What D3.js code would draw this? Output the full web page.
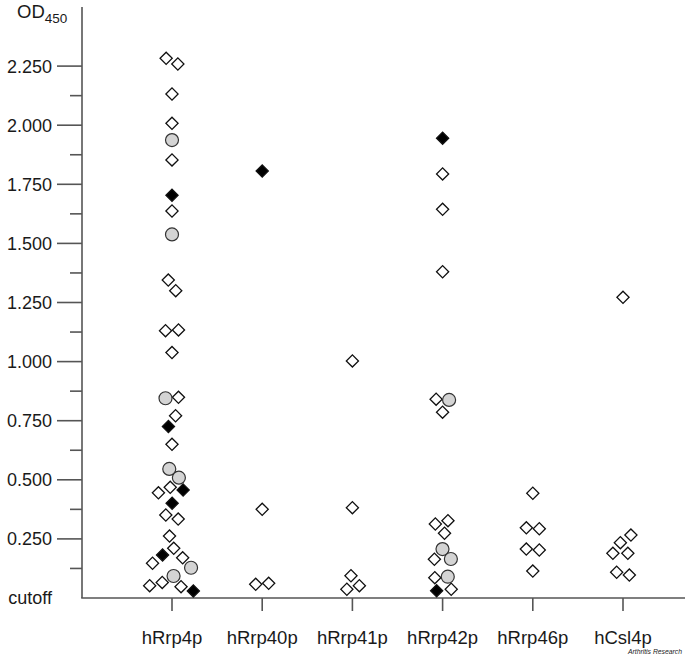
<!DOCTYPE html>
<html>
<head>
<meta charset="utf-8">
<script src="https://cdn.jsdelivr.net/npm/d3@7"></script>
<style>
  html, body { margin: 0; padding: 0; background: #fff; }
  svg { display: block; }
  text { font-family: "Liberation Sans", Arial, Helvetica, sans-serif; fill: #1a1a1a; }
</style>
</head>
<body>
<svg id="chart" width="685" height="655"></svg>
<script>
// ---- data ----
const categories = ["hRrp4p", "hRrp40p", "hRrp41p", "hRrp42p", "hRrp46p", "hCsl4p"];
const yTickValues = [0, 0.25, 0.5, 0.75, 1.0, 1.25, 1.5, 1.75, 2.0, 2.25];
const yTickLabels = ["cutoff", "0.250", "0.500", "0.750", "1.000", "1.250", "1.500", "1.750", "2.000", "2.250"];
const yMinorTickValues = [0.125, 0.375, 0.625, 0.875, 1.125, 1.375, 1.625, 1.875, 2.125];

// open diamonds: [category, OD450]
const openDiamondPoints = [
  ["hRrp4p", 2.283], ["hRrp4p", 2.259], ["hRrp4p", 2.132], ["hRrp4p", 2.008], ["hRrp4p", 1.853],
  ["hRrp4p", 1.637], ["hRrp4p", 1.345], ["hRrp4p", 1.300], ["hRrp4p", 1.134], ["hRrp4p", 1.131],
  ["hRrp4p", 1.038], ["hRrp4p", 0.849], ["hRrp4p", 0.771], ["hRrp4p", 0.650], ["hRrp4p", 0.468],
  ["hRrp4p", 0.445], ["hRrp4p", 0.351], ["hRrp4p", 0.334], ["hRrp4p", 0.262], ["hRrp4p", 0.210],
  ["hRrp4p", 0.170], ["hRrp4p", 0.147], ["hRrp4p", 0.066], ["hRrp4p", 0.052], ["hRrp4p", 0.048],
  ["hRrp40p", 0.375], ["hRrp40p", 0.062], ["hRrp40p", 0.058],
  ["hRrp41p", 1.003], ["hRrp41p", 0.382], ["hRrp41p", 0.094], ["hRrp41p", 0.052], ["hRrp41p", 0.037],
  ["hRrp42p", 1.794], ["hRrp42p", 1.644], ["hRrp42p", 1.380], ["hRrp42p", 0.841], ["hRrp42p", 0.786],
  ["hRrp42p", 0.327], ["hRrp42p", 0.313], ["hRrp42p", 0.274], ["hRrp42p", 0.164], ["hRrp42p", 0.086],
  ["hRrp42p", 0.037],
  ["hRrp46p", 0.443], ["hRrp46p", 0.297], ["hRrp46p", 0.293], ["hRrp46p", 0.207], ["hRrp46p", 0.203],
  ["hRrp46p", 0.114],
  ["hCsl4p", 1.272], ["hCsl4p", 0.266], ["hCsl4p", 0.234], ["hCsl4p", 0.189], ["hCsl4p", 0.189],
  ["hCsl4p", 0.109], ["hCsl4p", 0.097]
];
// filled (black) diamonds
const filledDiamondPoints = [
  ["hRrp4p", 1.704], ["hRrp4p", 0.725], ["hRrp4p", 0.457], ["hRrp4p", 0.401], ["hRrp4p", 0.182],
  ["hRrp4p", 0.030],
  ["hRrp40p", 1.806],
  ["hRrp42p", 1.945], ["hRrp42p", 0.031]
];
// grey circles
const greyCirclePoints = [
  ["hRrp4p", 1.937], ["hRrp4p", 1.538], ["hRrp4p", 0.845], ["hRrp4p", 0.546], ["hRrp4p", 0.509],
  ["hRrp4p", 0.128], ["hRrp4p", 0.093],
  ["hRrp42p", 0.838], ["hRrp42p", 0.207], ["hRrp42p", 0.165], ["hRrp42p", 0.090]
];

// ---- layout ----
const svg = d3.select("#chart");
const axisColor = "#555";

const y = d3.scaleLinear().domain([0, 2.5]).range([598, 7]);
const x = d3.scalePoint().domain(categories).range([172, 623]);
const axisX = 82;

// nodes
const nodes = [];
openDiamondPoints.forEach(([c, v]) => nodes.push({ cat: c, value: v, kind: "open" }));
filledDiamondPoints.forEach(([c, v]) => nodes.push({ cat: c, value: v, kind: "filled" }));
greyCirclePoints.forEach(([c, v]) => nodes.push({ cat: c, value: v, kind: "circle" }));
nodes.sort((a, b) => b.value - a.value);
nodes.forEach(n => { n.x = x(n.cat); n.y = y(n.value); n.fy = y(n.value); });

const sim = d3.forceSimulation(nodes)
  .force("x", d3.forceX(d => x(d.cat)).strength(0.06))
  .force("collide", d3.forceCollide(6.5).iterations(4))
  .stop();
for (let i = 0; i < 400; i++) sim.tick();

// y axis line
svg.append("line")
  .attr("x1", axisX).attr("x2", axisX)
  .attr("y1", y(2.5)).attr("y2", y(0))
  .attr("stroke", axisColor).attr("stroke-width", 1.6);

// x axis line
svg.append("line")
  .attr("x1", axisX - 0.8).attr("x2", 685)
  .attr("y1", y(0)).attr("y2", y(0))
  .attr("stroke", axisColor).attr("stroke-width", 1.6);

// y major ticks (skip 0)
svg.append("g").selectAll("line")
  .data(yTickValues.filter(v => v > 0))
  .join("line")
  .attr("x1", axisX - 25).attr("x2", axisX)
  .attr("y1", d => y(d)).attr("y2", d => y(d))
  .attr("stroke", axisColor).attr("stroke-width", 1.6);

// y minor ticks
svg.append("g").selectAll("line")
  .data(yMinorTickValues)
  .join("line")
  .attr("x1", axisX - 12).attr("x2", axisX)
  .attr("y1", d => y(d)).attr("y2", d => y(d))
  .attr("stroke", axisColor).attr("stroke-width", 1.6);

// y tick labels
svg.append("g").selectAll("text")
  .data(yTickValues)
  .join("text")
  .attr("x", axisX - 30)
  .attr("y", d => y(d))
  .attr("dy", "0.36em")
  .attr("text-anchor", "end")
  .attr("font-size", 18)
  .text((d, i) => yTickLabels[i]);

// OD450 title
const title = svg.append("text").attr("x", 17).attr("y", 18).attr("font-size", 18.5);
title.append("tspan").text("OD");
title.append("tspan").attr("font-size", 13.5).attr("dy", 5).text("450");

// x ticks
svg.append("g").selectAll("line")
  .data(categories)
  .join("line")
  .attr("x1", d => x(d)).attr("x2", d => x(d))
  .attr("y1", y(0)).attr("y2", y(0) + 13)
  .attr("stroke", axisColor).attr("stroke-width", 1.6);

// x labels
svg.append("g").selectAll("text")
  .data(categories)
  .join("text")
  .attr("x", d => x(d))
  .attr("y", 644)
  .attr("text-anchor", "middle")
  .attr("font-size", 18.5)
  .text(d => d);

// credit
svg.append("text")
  .attr("x", 682).attr("y", 654)
  .attr("text-anchor", "end")
  .attr("font-size", 6.8)
  .attr("font-style", "italic")
  .attr("fill", "#333")
  .text("Arthritis Research");

// marks
const diamond = d3.symbol().type(d3.symbolSquare).size(74);
const marks = svg.append("g");
marks.selectAll("path.dia")
  .data(nodes.filter(n => n.kind !== "circle"))
  .join("path")
  .attr("class", "dia")
  .attr("d", diamond)
  .attr("transform", d => `translate(${d.x},${d.y}) rotate(45)`)
  .attr("fill", d => d.kind === "filled" ? "#000" : "#fff")
  .attr("stroke", "#111")
  .attr("stroke-width", 1.3);

marks.selectAll("circle")
  .data(nodes.filter(n => n.kind === "circle"))
  .join("circle")
  .attr("cx", d => d.x).attr("cy", d => d.y)
  .attr("r", 6.5)
  .attr("fill", "#d4d4d4")
  .attr("stroke", "#333")
  .attr("stroke-width", 1.2);
</script>
</body>
</html>
